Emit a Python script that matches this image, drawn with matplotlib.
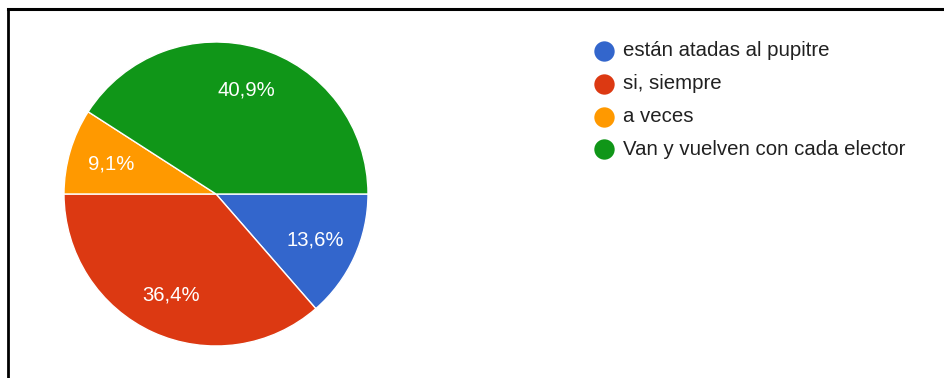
import matplotlib
matplotlib.use("Agg")
import matplotlib.pyplot as plt
from matplotlib.lines import Line2D
import numpy as np

# survey answers and their shares (%)
labels = ["están atadas al pupitre", "si, siempre", "a veces", "Van y vuelven con cada elector"]
shares = [13.6, 36.4, 9.1, 40.9]
pct_labels = ["13,6%", "36,4%", "9,1%", "40,9%"]
colors = ["#3366cc", "#dc3912", "#ff9900", "#109618"]

W, H = 944, 378
FONT = "Liberation Sans"

fig = plt.figure(figsize=(W / 100, H / 100), dpi=100)
ax = fig.add_axes([0, 0, 1, 1])

cx, cy, r = 216, H - 194, 152
wedges, _ = ax.pie(
    shares,
    colors=colors,
    startangle=0,
    counterclock=False,
    center=(cx, cy),
    radius=r,
    wedgeprops=dict(edgecolor="white", linewidth=1),
    frame=True,
)
ax.set_xlim(0, W)
ax.set_ylim(0, H)
ax.set_aspect("equal")
ax.axis("off")

for w, txt in zip(wedges, pct_labels):
    mid = np.deg2rad((w.theta1 + w.theta2) / 2)
    ax.text(cx + 0.72 * r * np.cos(mid), cy + 0.72 * r * np.sin(mid) - 1, txt,
            ha="center", va="center", color="white", fontsize=14.6, family=FONT)

# legend, one row per answer
for i, (lab, col) in enumerate(zip(labels, colors)):
    y = H - (51 + i * 32.8)
    ax.scatter([604], [y], s=215, color=col, linewidths=0)
    ax.text(623, y, lab, ha="left", va="center", fontsize=14.7, color="#212121", family=FONT)

# frame lines along top and left
fig.add_artist(Line2D([8 / W, 1], [1 - 9 / H, 1 - 9 / H], color="black", linewidth=2.2))
fig.add_artist(Line2D([8 / W, 8 / W], [0, 1 - 9 / H], color="black", linewidth=2.0))

fig.savefig("out.png", dpi=100)
